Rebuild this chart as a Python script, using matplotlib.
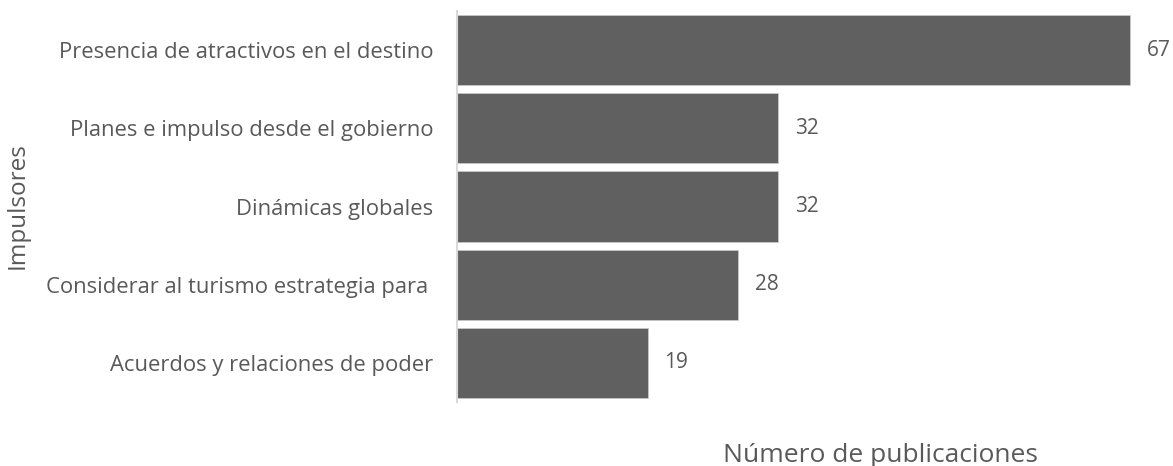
import matplotlib
matplotlib.use("Agg")
import matplotlib.pyplot as plt

plt.rcParams["font.family"] = ["Open Sans", "DejaVu Sans"]

# Data
categories = [
    "Presencia de atractivos en el destino",
    "Planes e impulso desde el gobierno",
    "Dinámicas globales",
    "Considerar al turismo estrategia para ",
    "Acuerdos y relaciones de poder",
]
values = [67, 32, 32, 28, 19]

TEXT = "#595959"
BAR = "#606060"

fig = plt.figure(figsize=(11.73, 4.66), dpi=100)
ax = fig.add_axes([457 / 1173, 64 / 466, 703 / 1173, 391 / 466])

y = list(range(len(categories)))
bars = ax.barh(y, values, height=0.9, color=BAR, edgecolor="#c8c8c8", linewidth=0.6)
ax.set_ylim(len(categories) - 0.5, -0.5)
ax.set_xlim(0, 70)

ax.set_yticks(y)
ax.set_yticklabels(categories, fontsize=15.8, color=TEXT)
ax.tick_params(axis="y", length=0, pad=17)
ax.set_xticks([])

for s in ["top", "right", "bottom"]:
    ax.spines[s].set_visible(False)
ax.spines["left"].set_color("#d9d9d9")
ax.spines["left"].set_linewidth(1.5)

# value labels to the right of each bar
for bar, v in zip(bars, values):
    ax.annotate(str(v), (bar.get_width(), bar.get_y() + bar.get_height() / 2),
                xytext=(12, 0), textcoords="offset points",
                ha="left", va="center", fontsize=15, color=TEXT,
                annotation_clip=False)

fig.text(18 / 1173, 1 - 206 / 466, "Impulsores", rotation=90,
         ha="center", va="center", fontsize=17.5, color=TEXT)
fig.text(880 / 1173, 1 - 455 / 466, "Número de publicaciones",
         ha="center", va="center", fontsize=19, color=TEXT)

fig.savefig("out.png", dpi=100)
